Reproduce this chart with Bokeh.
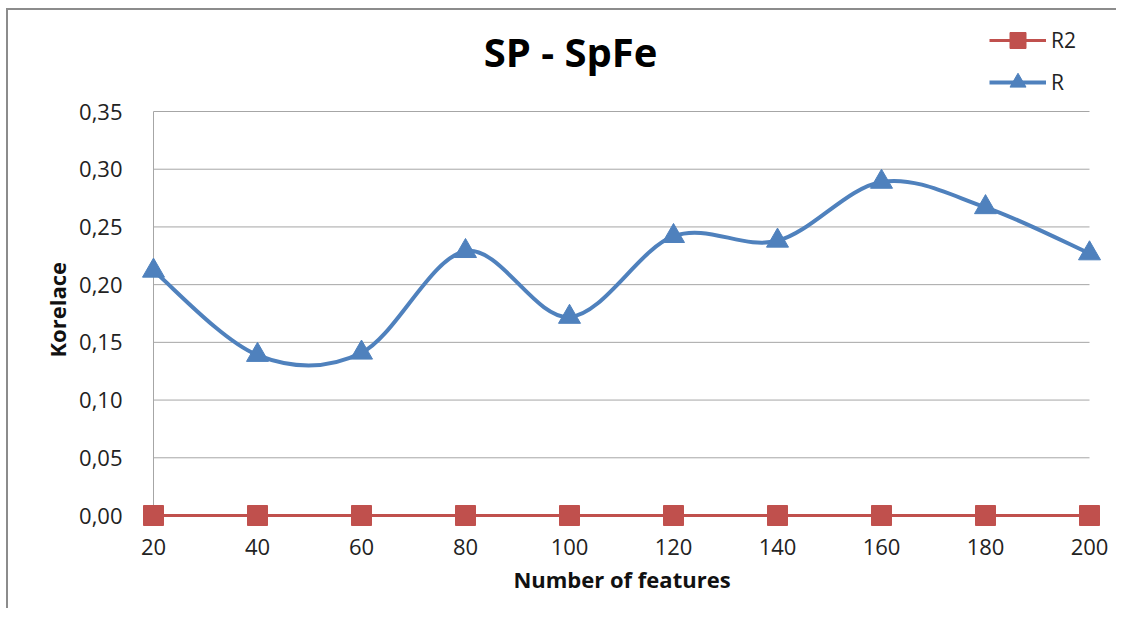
from bokeh.plotting import figure
from bokeh.models import Legend, LegendItem, CustomJSTickFormatter, FixedTicker, Range1d, Title, Label
from bokeh.embed import file_html
from bokeh.resources import INLINE

features = [20, 40, 60, 80, 100, 120, 140, 160, 180, 200]
r_values = [0.212, 0.139, 0.141, 0.229, 0.172, 0.242, 0.238, 0.289, 0.267, 0.227]
r2_values = [0.0, 0.0, 0.0, 0.0, 0.0, 0.0, 0.0, 0.0, 0.0, 0.0]
y_ticks = [0.0, 0.05, 0.10, 0.15, 0.20, 0.25, 0.30, 0.35]

BLUE = "#4F81BD"
RED = "#C0504D"
GRID = "#a6a6a6"
FONT = "Open Sans"

# pixel scale of the plotting area (936 px for x 20..200, 404 px for y 0..0.35)
px_x = 936 / (features[-1] - features[0])
px_y = 404 / (y_ticks[-1] - y_ticks[0])
x_lo = features[0] - 15 / px_x
x_hi = features[-1] + 16 / px_x
y_lo = y_ticks[0] - 15 / px_y
y_hi = y_ticks[-1] + 96 / px_y

p = figure(width=1110, height=600, output_backend="svg", toolbar_location=None,
           x_range=Range1d(x_lo, x_hi), y_range=Range1d(y_lo, y_hi),
           min_border_left=130, min_border_right=13, min_border_top=5, min_border_bottom=80)
p.styles = {"border-left": "2px solid #8c8c8c", "border-top": "2px solid #8c8c8c",
            "margin-left": "6px", "margin-top": "8px"}
p.outline_line_color = None

# Axes (lines drawn manually so the markers are not clipped at the edges)
p.xaxis.ticker = FixedTicker(ticks=features)
p.yaxis.ticker = FixedTicker(ticks=y_ticks)
p.yaxis.formatter = CustomJSTickFormatter(code="return tick.toFixed(2).replace('.', ',');")
for ax in (p.xaxis[0], p.yaxis[0]):
    ax.axis_line_color = None
    ax.major_tick_line_color = None
    ax.minor_tick_line_color = None
    ax.major_label_text_font = FONT
    ax.major_label_text_font_size = "22px"
    ax.major_label_text_color = "#222222"
    ax.axis_label_text_font = FONT
    ax.axis_label_text_font_size = "22px"
    ax.axis_label_text_font_style = "bold"
    ax.axis_label_text_color = "#111111"
p.xaxis.axis_label = "Number of features"
p.xaxis.major_label_standoff = 2
p.yaxis.major_label_standoff = 10
p.xaxis.axis_label_standoff = 6

ylab = Title(text="Korelace", align="left", text_font=FONT, text_font_size="22px",
             text_font_style="bold", text_color="#111111", offset=173)
p.add_layout(ylab, "left")

p.xgrid.grid_line_color = None
p.ygrid.grid_line_color = None

# gridlines and axis lines
p.segment(x0=[features[0]] * (len(y_ticks) - 1), x1=[features[-1]] * (len(y_ticks) - 1),
          y0=y_ticks[1:], y1=y_ticks[1:], line_color=GRID, line_width=1)
p.segment(x0=[features[0]], x1=[features[0]], y0=[y_ticks[0]], y1=[y_ticks[-1]],
          line_color=GRID, line_width=1)
p.segment(x0=[features[0]], x1=[features[-1]], y0=[y_ticks[0]], y1=[y_ticks[0]],
          line_color=GRID, line_width=1)

# Title inside the canvas
p.add_layout(Label(x=100.2, y=y_ticks[-1] + 60 / px_y, text="SP - SpFe", text_font=FONT,
                   text_font_size="40px", text_font_style="bold", text_color="#000000",
                   text_align="center", text_baseline="middle"))

# Smoothed R line (Catmull-Rom style bezier through the data points)
n = len(features)
def pt(i):
    i = max(0, min(n - 1, i))
    return features[i], r_values[i]
x0, y0, x1, y1, cx0, cy0, cx1, cy1 = [], [], [], [], [], [], [], []
for i in range(n - 1):
    xa, ya = pt(i)
    xb, yb = pt(i + 1)
    xp, yp = pt(i - 1)
    xn, yn = pt(i + 2)
    x0.append(xa); y0.append(ya); x1.append(xb); y1.append(yb)
    cx0.append(xa + (xb - xp) / 6); cy0.append(ya + (yb - yp) / 6)
    cx1.append(xb - (xn - xa) / 6); cy1.append(yb - (yn - ya) / 6)

r2_line = p.line(features, r2_values, line_color=RED, line_width=3)
r2_pts = p.scatter(features, r2_values, marker="square", size=20, fill_color=RED, line_color=RED)

r_line = p.bezier(x0=x0, y0=y0, x1=x1, y1=y1, cx0=cx0, cy0=cy0, cx1=cx1, cy1=cy1,
                  line_color=BLUE, line_width=4)
r_pts = p.scatter(features, r_values, marker="triangle", size=22, fill_color=BLUE, line_color=BLUE)

legend = Legend(items=[LegendItem(label="R2", renderers=[r2_line, r2_pts]),
                       LegendItem(label="R", renderers=[r_line, r_pts])],
                location=(851, 428), orientation="vertical")
legend.label_text_font = FONT
legend.label_text_font_size = "21px"
legend.label_text_color = "#222222"
legend.glyph_width = 57
legend.glyph_height = 40
legend.spacing = 2
legend.label_standoff = 5
legend.padding = 10
legend.margin = 0
legend.border_line_color = None
legend.background_fill_alpha = 0
p.add_layout(legend, "center")

open("out.html", "w").write(file_html(p, INLINE))
